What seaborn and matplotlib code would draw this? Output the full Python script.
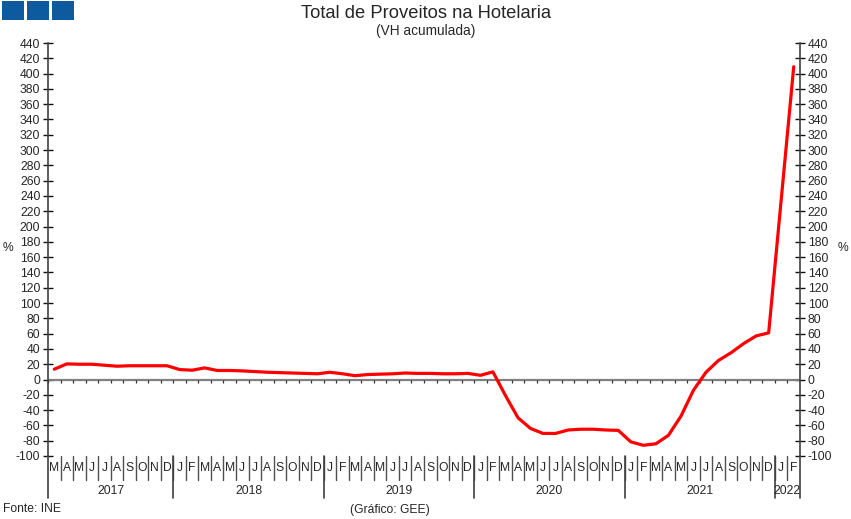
import numpy as np
import pandas as pd
import matplotlib
matplotlib.use("Agg")
import matplotlib.pyplot as plt
import matplotlib.transforms as mtransforms
from matplotlib.patches import Rectangle
import seaborn as sns

# ---- data ----
years = ["2017", "2018", "2019", "2020", "2021", "2022"]
year_months = [10, 12, 12, 12, 12, 2]
month_letters = (["M", "A", "M", "J", "J", "A", "S", "O", "N", "D"]
                 + ["J", "F", "M", "A", "M", "J", "J", "A", "S", "O", "N", "D"] * 4
                 + ["J", "F"])
values_2017 = [13.5, 20.4, 20.0, 20.0, 18.7, 17.4, 18.0, 18.0, 18.0, 18.0]
values_2018 = [13.0, 12.2, 15.2, 11.8, 11.8, 11.3, 10.4, 9.5, 9.0, 8.5, 8.0, 7.5]
values_2019 = [9.5, 7.5, 5.0, 6.5, 7.0, 7.5, 8.5, 8.0, 8.0, 7.5, 7.5, 8.0]
values_2020 = [5.5, 10.0, -21.0, -50.0, -64.0, -70.5, -70.5, -66.0, -65.0, -65.0, -66.0, -66.5]
values_2021 = [-81.5, -86.0, -84.0, -73.0, -48.0, -14.0, 9.5, 25.0, 35.0, 47.0, 57.0, 61.0]
values_2022 = [235.0, 409.0]
yticks = list(range(-100, 441, 20))

values = values_2017 + values_2018 + values_2019 + values_2020 + values_2021 + values_2022
df = pd.DataFrame({"idx": np.arange(len(values)), "value": values})
n = len(values)

sns.set_style("white")
plt.rcParams["font.family"] = ["Liberation Sans", "DejaVu Sans"]

W, H = 851, 519
fig = plt.figure(figsize=(W / 100, H / 100), dpi=100)
ax_left, ax_right, ax_top, ax_bot = 48, 800, 43, 456
ax = fig.add_axes([ax_left / W, 1 - ax_bot / H, (ax_right - ax_left) / W, (ax_bot - ax_top) / H])

# zero line
ax.axhline(0, color="#808080", linewidth=1.6, zorder=1)
# small ticks on zero line at month boundaries
bounds = np.arange(-0.5, n, 1.0)
ax.vlines(bounds, -4.5, 0, color="#333333", linewidth=0.9, zorder=1)

sns.lineplot(data=df, x="idx", y="value", color="#ff0000", linewidth=2.3, ax=ax, zorder=3)

ax.set_xlim(-0.5, n - 0.5)
ax.set_ylim(-100, 440)
ax.set_xticks([])
ax.set_yticks(yticks)
ax.set_yticklabels([str(t) for t in yticks])
ax.tick_params(axis="y", direction="inout", length=7, width=1, color="#111111",
               left=True, right=True, labelleft=True, labelright=True,
               labelsize=8.7, pad=2)
ax.set_xlabel("")
ax.set_ylabel("")
for s in ["top", "bottom"]:
    ax.spines[s].set_visible(False)
for s in ["left", "right"]:
    ax.spines[s].set_color("#404040")
    ax.spines[s].set_linewidth(1.2)

trans = mtransforms.blended_transform_factory(ax.transData, ax.transAxes)
ah = ax_bot - ax_top
m_low = -24 / ah
y_low = -42 / ah
# month separators and labels
for b in bounds[1:-1]:
    ax.plot([b, b], [0, m_low], transform=trans, color="#505050", linewidth=1.0, clip_on=False)
for i, lab in enumerate(month_letters):
    ax.text(i, -12 / ah, lab, transform=trans, ha="center", va="center", fontsize=8.7, clip_on=False)
# year separators and labels
start = 0
for yr, cnt in zip(years, year_months):
    b = start - 0.5
    ax.plot([b, b], [0, y_low], transform=trans, color="#404040", linewidth=1.2, clip_on=False)
    ax.text(start + (cnt - 1) / 2, -35.5 / ah, yr, transform=trans, ha="center", va="center",
            fontsize=8.7, clip_on=False)
    start += cnt
ax.plot([n - 0.5, n - 0.5], [0, y_low], transform=trans, color="#404040", linewidth=1.2, clip_on=False)

# titles and notes
fig.text(426 / W, 1 - 13.5 / H, "Total de Proveitos na Hotelaria", ha="center", va="center", fontsize=13.2)
fig.text(426 / W, 1 - 31.5 / H, "(VH acumulada)", ha="center", va="center", fontsize=9.8)
fig.text(8 / W, 1 - 248 / H, "%", ha="center", va="center", fontsize=8.7)
fig.text(843 / W, 1 - 248 / H, "%", ha="center", va="center", fontsize=8.7)
fig.text(3 / W, 1 - 509 / H, "Fonte: INE", ha="left", va="center", fontsize=8.7)
fig.text(390 / W, 1 - 510 / H, "(Gráfico: GEE)", ha="center", va="center", fontsize=8.7)

# logo squares
for x0 in (2, 27, 52):
    fig.add_artist(Rectangle((x0 / W, 1 - 20 / H), 22 / W, 19 / H, transform=fig.transFigure,
                             facecolor="#0d5a9e", edgecolor="none"))

fig.savefig("out.png", dpi=100)
